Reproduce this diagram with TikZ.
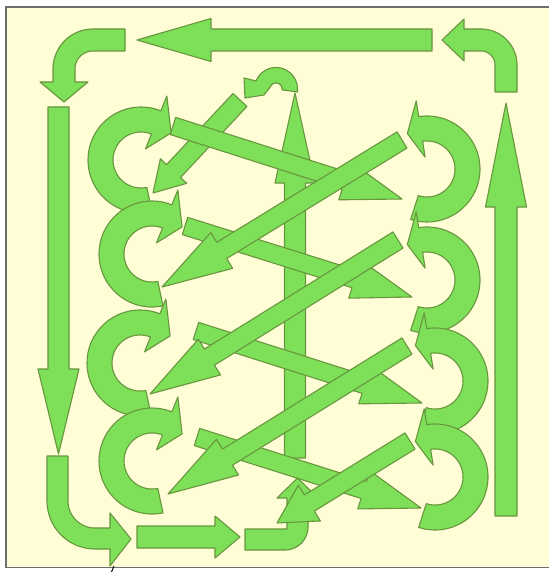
\documentclass[tikz,border=0pt]{standalone}
\definecolor{gfill}{RGB}{126,224,88}
\definecolor{gline}{RGB}{104,150,62}
\definecolor{cream}{RGB}{255,253,214}
\definecolor{framec}{RGB}{110,110,110}
\tikzset{arr/.style={fill=gfill,draw=gline,line width=1.1pt,line join=round}}
\def\cRin{28}\def\cRout{53}\def\cBin{12}\def\cBout{69}\def\cRmid{40.5}
% straight arrow: x1 y1 x2 y2 shaft-half head-half head-length
\newcommand\sarr[7]{%
 \pgfmathsetmacro\sarrang{atan2(#2-#4,#3-#1)}%
 \pgfmathsetmacro\sarrlen{veclen(#3-#1,#4-#2)}%
 \begin{scope}[shift={(#1,#2)},rotate=\sarrang]
 \draw[arr] (0,-#5) -- ({\sarrlen-#7},-#5) -- ({\sarrlen-#7},-#6) -- (\sarrlen,0)
   -- ({\sarrlen-#7},#6) -- ({\sarrlen-#7},#5) -- (0,#5) -- cycle;
 \end{scope}}
% circular arrow: cx cy xscale tail base tip
\newcommand\carr[6]{%
 \begin{scope}[shift={(#1,#2)},xscale=#3]
 \draw[arr] (#4:\cRin) -- plot[domain=#4:#5,samples=60] (\x:\cRin) -- (#5:\cBin) -- (#6:\cRmid)
   -- (#5:\cBout) -- plot[domain=#5:#4,samples=60] (\x:\cRout) -- cycle;
 \end{scope}}
\begin{document}
\begin{tikzpicture}[x=1pt,y=-1pt]
\useasboundingbox (0,0) rectangle (548,572);
\fill[white] (0,0) rectangle (548,572);
\draw[framec,fill=cream,line width=1.3pt] (6,7) rectangle (550,567.5);
% border arrows
\sarr{432}{40}{137}{40}{11}{21.5}{74}
\draw[arr] (125,29) -- (93,29) -- plot[domain=-90:-180,samples=30] ({93+40*cos(\x)},{69+40*sin(\x)})
  -- (53,82) -- (40,82) -- (64,102) -- (88,82) -- (75,82) -- (75,69)
  -- plot[domain=180:270,samples=30] ({93+18*cos(\x)},{69+18*sin(\x)}) -- (125,51) -- cycle;
\sarr{58.5}{107}{58.5}{454}{10.5}{20.5}{85}
\draw[arr] (47,456) -- (47,501) -- plot[domain=180:90,samples=30] ({95+48*cos(\x)},{501+48*sin(\x)})
  -- (110,549) -- (110,566) -- (131,539) -- (110,513) -- (110,528) -- (95,528)
  -- plot[domain=90:180,samples=30] ({95+27*cos(\x)},{501+27*sin(\x)}) -- (68,456) -- cycle;
\sarr{137}{537}{240}{537}{11}{21}{25}
\draw[arr] (245,529) -- (287,529) -- (287,498) -- (277,498) -- (297.5,478) -- (318,498) -- (308,498)
  -- (308,527) -- plot[domain=0:90,samples=20] ({285+23*cos(\x)},{527+23*sin(\x)}) -- (245,550) -- cycle;
\sarr{506}{516}{506}{103}{11}{20.5}{104}
\draw[arr] (517,92) -- (517,65) -- plot[domain=0:-90,samples=30] ({481+36*cos(\x)},{65+36*sin(\x)})
  -- (464,29) -- (464,19) -- (442,40) -- (464,61) -- (464,51) -- (481,51)
  -- plot[domain=-90:0,samples=20] ({481+14*cos(\x)},{65+14*sin(\x)}) -- (495,92) -- cycle;
% centre arrow and small top arrow
\sarr{295}{458}{295}{93}{10.5}{20}{90}
\draw[arr] (297.8,92) -- plot[domain=8:-158,samples=40] ({276+21.5*cos(\x)},{89+21.5*sin(\x)})
  -- (244,78) -- (245,98) -- (264,95) -- plot[domain=-160:8,samples=30] ({276+6*cos(\x)},{89+6*sin(\x)}) -- cycle;
% C-shaped arrows
\carr{141}{160}{1}{78}{292}{318}
\carr{152}{254}{1}{78}{292}{318}
\carr{140}{363}{1}{78}{292}{318}
\carr{152}{461}{1}{78}{292}{318}
\carr{427}{169}{-1}{72}{279}{299}
\carr{427}{280}{-1}{72}{279}{299}
\carr{435}{381}{-1}{72}{279}{299}
\carr{435}{477}{-1}{72}{279}{299}
% diagonal arrows
\sarr{240}{100}{153}{193}{9.5}{18}{30}
\sarr{173}{126}{402}{199}{9}{20}{60}
\sarr{185}{226}{412}{297}{9}{20}{60}
\sarr{196}{331}{422}{403}{9}{20}{60}
\sarr{197}{437}{421}{508}{9}{20}{60}
\sarr{402}{140}{162}{287}{9.5}{21}{70}
\sarr{398}{240}{150}{394}{9.5}{21}{70}
\sarr{407}{346}{168}{494}{9.5}{21}{70}
\sarr{410}{441}{277}{523}{9.5}{21}{38}
\draw[black,line width=1pt] (114,566) -- (111.5,572);
\end{tikzpicture}
\end{document}
